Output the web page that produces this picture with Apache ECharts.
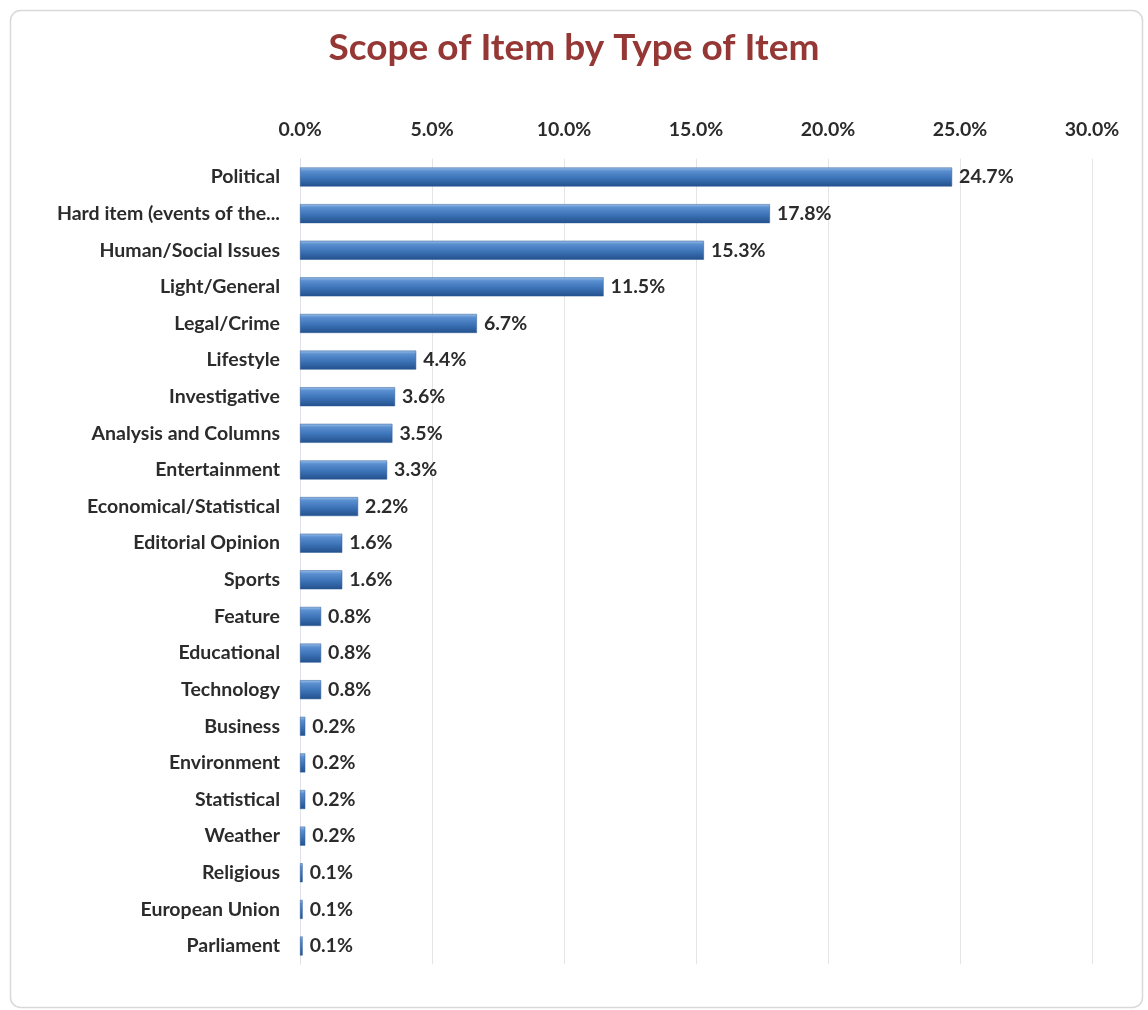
<!DOCTYPE html>
<html>
<head>
<meta charset="utf-8">
<title>Scope of Item by Type of Item</title>
<script src="https://cdn.jsdelivr.net/npm/echarts@6/dist/echarts.min.js"></script>
<style>
  html, body { margin: 0; padding: 0; background: #ffffff; }
  #chart { width: 1148px; height: 1010px; }
</style>
</head>
<body>
<div id="chart"></div>
<script>
// Item types, ordered from largest share to smallest
const categories = [
  'Political',
  'Hard item (events of the...',
  'Human/Social Issues',
  'Light/General',
  'Legal/Crime',
  'Lifestyle',
  'Investigative',
  'Analysis and Columns',
  'Entertainment',
  'Economical/Statistical',
  'Editorial Opinion',
  'Sports',
  'Feature',
  'Educational',
  'Technology',
  'Business',
  'Environment',
  'Statistical',
  'Weather',
  'Religious',
  'European Union',
  'Parliament'
];

// Share of items per type, in percent
const shares = [24.7, 17.8, 15.3, 11.5, 6.7, 4.4, 3.6, 3.5, 3.3, 2.2, 1.6, 1.6,
                0.8, 0.8, 0.8, 0.2, 0.2, 0.2, 0.2, 0.1, 0.1, 0.1];

// Value axis ticks (percent)
const axisMin = 0;
const axisMax = 30;
const axisStep = 5;

const FONT = 'Lato, "Liberation Sans", sans-serif';
const TEXT = '#2b2b2b';

const chart = echarts.init(document.getElementById('chart'));

const barFill = new echarts.graphic.LinearGradient(0, 0, 0, 1, [
  { offset: 0, color: '#9cc0ea' },
  { offset: 0.18, color: '#5a8fd0' },
  { offset: 0.55, color: '#3d74b8' },
  { offset: 1, color: '#23508c' }
]);

chart.setOption({
  backgroundColor: '#ffffff',
  animation: false,
  graphic: [{
    type: 'rect',
    left: 8, top: 8,
    shape: { width: 1132, height: 997, r: 10 },
    style: { fill: 'none', stroke: '#d9d9d9', lineWidth: 1.5 },
    silent: true,
    z: -1
  }],
  title: {
    text: 'Scope of Item by Type of Item',
    left: 'center',
    top: 25,
    textStyle: {
      fontFamily: FONT,
      fontWeight: 'bold',
      fontSize: 37,
      color: '#953735'
    }
  },
  grid: {
    left: 300,
    right: 56,
    top: 158.7,
    bottom: 45.7,
    containLabel: false
  },
  xAxis: {
    type: 'value',
    position: 'top',
    min: axisMin,
    max: axisMax,
    interval: axisStep,
    axisLine: { show: false },
    axisTick: { show: false },
    splitLine: { show: true, lineStyle: { color: '#e4e4e4', width: 1 } },
    axisLabel: {
      margin: 19,
      fontFamily: FONT,
      fontWeight: 'bold',
      fontSize: 19.5,
      color: TEXT,
      formatter: v => v.toFixed(1) + '%'
    }
  },
  yAxis: {
    type: 'category',
    inverse: true,
    data: categories,
    axisLine: { show: true, lineStyle: { color: '#e0e0e8', width: 1 } },
    axisTick: { show: false },
    axisLabel: {
      margin: 20,
      fontFamily: FONT,
      fontWeight: 'bold',
      fontSize: 19.5,
      color: TEXT
    }
  },
  series: [{
    type: 'bar',
    data: shares,
    barWidth: 19,
    itemStyle: {
      color: barFill,
      borderColor: '#2a5a96',
      borderWidth: 0.5
    },
    label: {
      show: true,
      position: 'right',
      distance: 7,
      fontFamily: FONT,
      fontWeight: 'bold',
      fontSize: 19.5,
      color: TEXT,
      formatter: p => p.value.toFixed(1) + '%'
    }
  }]
});
</script>
</body>
</html>
